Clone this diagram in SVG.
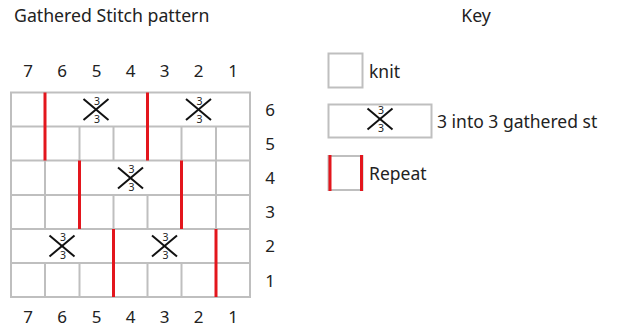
<svg xmlns="http://www.w3.org/2000/svg" xmlns:xlink="http://www.w3.org/1999/xlink" width="617" height="329" viewBox="0 0 617 329">
<style>
  .t{font-family:"Noto Sans","Open Sans","Liberation Sans",sans-serif;fill:#222;}
  .title{font-size:17.7px;}
  .num{font-size:17px;text-anchor:middle;}
  .leg{font-size:17.5px;}
  .g{stroke:#bfbfbf;stroke-width:2;fill:none;}
  .r{stroke:#e3161d;stroke-width:3;fill:none;}
  .x{stroke:#111;stroke-width:2;}
  .s{font-family:"Noto Sans","Liberation Sans",sans-serif;font-size:10.5px;fill:#222;text-anchor:middle;}
</style>
<defs>
  <g id="gather">
    <line class="x" x1="-12.5" y1="-10.5" x2="12.5" y2="10.5"/>
    <line class="x" x1="-12.5" y1="10.5" x2="12.5" y2="-10.5"/>
    <text class="s" x="1" y="-5">3</text>
    <text class="s" x="1" y="13">3</text>
  </g>
</defs>
<rect width="617" height="329" fill="#fff"/>
<g id="title"><text class="t title" x="14" y="22">Gathered Stitch pattern</text></g>
<g id="key-title"><text class="t title" x="476" y="22" text-anchor="middle">Key</text></g>

<g id="col-numbers-top" class="t num">
  <text x="28" y="77">7</text><text x="62" y="77">6</text><text x="96.5" y="77">5</text><text x="130.5" y="77">4</text><text x="164.5" y="77">3</text><text x="198.5" y="77">2</text><text x="233" y="77">1</text>
</g>
<g id="col-numbers-bottom" class="t num">
  <text x="28" y="323">7</text><text x="62" y="323">6</text><text x="96.5" y="323">5</text><text x="130.5" y="323">4</text><text x="164.5" y="323">3</text><text x="198.5" y="323">2</text><text x="233" y="323">1</text>
</g>
<g id="row-numbers" class="t num">
  <text x="270" y="116">6</text><text x="270" y="150">5</text><text x="270" y="184">4</text><text x="270" y="218">3</text><text x="270" y="252">2</text><text x="270" y="287">1</text>
</g>

<g id="chart-grid" class="g">
  <rect x="11" y="92.5" width="239" height="204.5"/>
  <line x1="11" y1="126.5" x2="250" y2="126.5"/>
  <line x1="11" y1="160.5" x2="250" y2="160.5"/>
  <line x1="11" y1="195" x2="250" y2="195"/>
  <line x1="11" y1="229" x2="250" y2="229"/>
  <line x1="11" y1="263" x2="250" y2="263"/>
  <line x1="79.5" y1="126.5" x2="79.5" y2="160.5"/>
  <line x1="113.5" y1="126.5" x2="113.5" y2="160.5"/>
  <line x1="181.5" y1="126.5" x2="181.5" y2="160.5"/>
  <line x1="216" y1="126.5" x2="216" y2="160.5"/>
  <line x1="45" y1="160.5" x2="45" y2="195"/>
  <line x1="216" y1="160.5" x2="216" y2="195"/>
  <line x1="45" y1="195" x2="45" y2="229"/>
  <line x1="113.5" y1="195" x2="113.5" y2="229"/>
  <line x1="147.5" y1="195" x2="147.5" y2="229"/>
  <line x1="216" y1="195" x2="216" y2="229"/>
  <line x1="45" y1="263" x2="45" y2="297"/>
  <line x1="79.5" y1="263" x2="79.5" y2="297"/>
  <line x1="147.5" y1="263" x2="147.5" y2="297"/>
  <line x1="181.5" y1="263" x2="181.5" y2="297"/>
</g>

<g id="repeat-lines" class="r">
  <line x1="45" y1="92.5" x2="45" y2="160.5"/>
  <line x1="147.5" y1="92.5" x2="147.5" y2="160.5"/>
  <line x1="79.5" y1="160.5" x2="79.5" y2="229"/>
  <line x1="181.5" y1="160.5" x2="181.5" y2="229"/>
  <line x1="113.5" y1="229" x2="113.5" y2="297"/>
  <line x1="216" y1="229" x2="216" y2="297"/>
</g>

<g id="gathered-symbols">
  <use xlink:href="#gather" x="96" y="109.5"/>
  <use xlink:href="#gather" x="198.5" y="109.5"/>
  <use xlink:href="#gather" x="130.5" y="178"/>
  <use xlink:href="#gather" x="62" y="246"/>
  <use xlink:href="#gather" x="164.5" y="246"/>
</g>

<g id="key-knit">
  <rect class="g" x="328.5" y="53.5" width="34" height="34"/>
  <text class="t leg" x="369" y="77.5">knit</text>
</g>
<g id="key-gathered">
  <rect class="g" x="328.5" y="104.5" width="103" height="33"/>
  <use xlink:href="#gather" x="380" y="119"/>
  <text class="t leg" x="437" y="127.5">3 into 3 gathered st</text>
</g>
<g id="key-repeat">
  <rect class="g" x="328.5" y="156" width="34" height="34"/>
  <line class="r" x1="330" y1="155" x2="330" y2="191"/>
  <line class="r" x1="361.5" y1="155" x2="361.5" y2="191"/>
  <text class="t leg" x="369" y="180">Repeat</text>
</g>
</svg>
